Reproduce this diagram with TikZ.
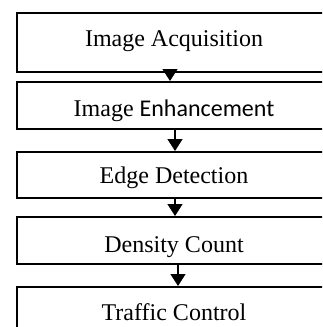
\documentclass[tikz,border=0pt]{standalone}
\usepackage{fontspec}
\setmainfont{Liberation Serif}
\newfontfamily\calibrifont{Carlito}
\usetikzlibrary{arrows.meta}
\newcommand{\boxline}{2pt}

\begin{document}
\begin{tikzpicture}[x=1pt,y=-1pt,
    stage/.style={draw, line width=\boxline, minimum width=314pt, inner ysep=0pt,
                  anchor=base, font=\fontsize{24}{24}\selectfont},
    flow/.style={line width=1.4pt, -{Triangle[width=15pt,length=12pt]}}]

        \clip (0,0) rectangle (322,327);

        \node (acq) at (174,46)  [stage, text height=33pt, text depth=26pt] {Image Acquisition};
        \node (enh) at (174,116) [stage, text height=34pt, text depth=13pt] {Image {\calibrifont Enhancement}};
        \node (edge) at (174,183) [stage, text height=31pt, text depth=15pt] {Edge Detection};
        \node (dens) at (174,252) [stage, text height=35pt, text depth=12pt] {Density Count};
        \node (ctrl) at (174,320) [stage, text height=33pt, text depth=14pt] {Traffic Control};

        \draw[flow] ([xshift=-4pt]acq.south) to ([xshift=-4pt]enh.north);
        \draw[flow] ([xshift=1pt]enh.south) to ([xshift=1pt]edge.north);
        \draw[flow] ([xshift=1pt]edge.south) to ([xshift=1pt]dens.north);
        \draw[flow] ([xshift=4pt]dens.south) to ([xshift=4pt]ctrl.north);
\end{tikzpicture}
\end{document}
